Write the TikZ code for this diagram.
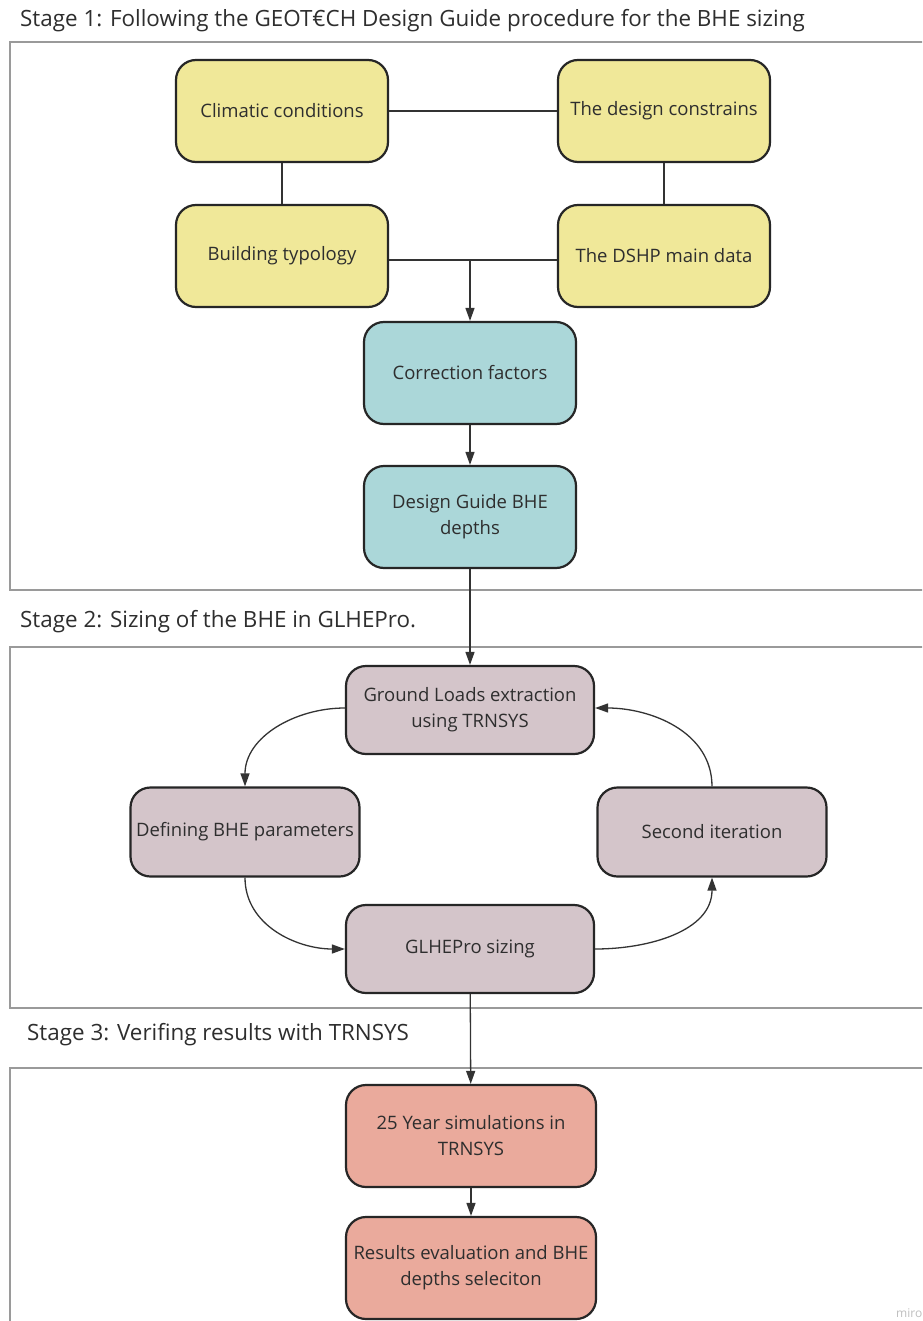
\documentclass[tikz,border=0pt]{standalone}
\usepackage{fontspec}
\setmainfont{Open Sans}
\usetikzlibrary{arrows.meta}
\definecolor{txt}{HTML}{2E2E2E}
\definecolor{yel}{HTML}{F0E899}
\definecolor{teal}{HTML}{ABD7D9}
\definecolor{mauve}{HTML}{D4C5CA}
\definecolor{salmon}{HTML}{EAAA9C}
\definecolor{frame}{HTML}{9A9A9A}
\tikzset{
  box/.style={draw=black!85, line width=2.2pt, rounded corners=20pt, align=center,
    text=txt, font=\fontsize{18.5}{26}\selectfont, inner sep=0pt},
  yb/.style={box, fill=yel, minimum width=212pt, minimum height=102pt},
  tb/.style={box, fill=teal, minimum width=212pt, minimum height=102pt},
  mb/.style={box, fill=mauve, minimum width=248pt, minimum height=88pt},
  mbs/.style={box, fill=mauve, minimum width=229pt, minimum height=89pt},
  sb/.style={box, fill=salmon, minimum width=250pt, minimum height=102pt},
  conn/.style={draw=black!80, line width=1.3pt},
  arr/.style={conn, -{Triangle[length=13pt,width=9pt]}},
  stagebox/.style={draw=frame, line width=1.5pt},
  stagetitle/.style={anchor=west, text=txt, font=\fontsize{22.4}{26}\selectfont, inner sep=0pt}
}
\begin{document}
\begin{tikzpicture}[x=1pt,y=-1pt]
\useasboundingbox (0,0) rectangle (922,1321);
\begin{scope}
\clip (0,0) rectangle (922,1321);
\fill[white] (0,0) rectangle (922,1321);
% stage frames
\draw[stagebox] (940,42) -- (10,42) -- (10,590) -- (940,590);
\draw[stagebox] (940,647) -- (10,647) -- (10,1008) -- (940,1008);
\draw[stagebox] (940,1068) -- (10,1068) -- (10,1340);
\node[text=black!25, font=\fontsize{12}{14}\selectfont, anchor=west, inner sep=0pt] (wm) at (896,1313) {miro};
\end{scope}
% titles
\node[stagetitle] (t1) at (20,21) {Stage 1: Following the GEOT€CH Design Guide procedure for the BHE sizing};
\node[stagetitle] (t2) at (20,622) {Stage 2: Sizing of the BHE in GLHEPro.};
\node[stagetitle] (t3) at (27,1035) {Stage 3: Verifing results with TRNSYS};
% stage 1 nodes
\node[yb] (clim) at (282,111) {Climatic conditions};
\node[yb] (cons) at (664,111) {The design constrains};
\node[yb] (build) at (282,256) {Building typology};
\node[yb] (dshp) at (664,256) {The DSHP main data};
\node[tb] (corr) at (470,373) {Correction factors};
\node[tb] (dg) at (470,517) {Design Guide BHE\\depths};
% stage 2 nodes
\node[mb] (gl) at (470,710) {Ground Loads extraction\\using TRNSYS};
\node[mbs] (def) at (245,832) {Defining BHE parameters};
\node[mbs] (sec) at (712,832) {Second iteration};
\node[mb] (glhe) at (470,949) {GLHEPro sizing};
% stage 3 nodes
\node[sb] (sim) at (471,1136) {25 Year simulations in\\TRNSYS};
\node[sb] (res) at (471,1268) {Results evaluation and BHE\\depths seleciton};
% connectors stage 1
\draw[conn] (clim) -- (cons);
\draw[conn] (clim) -- (build);
\draw[conn] (cons) -- (dshp);
\coordinate (mid) at (470,260);
\draw[conn] (build.east |- mid) -- (dshp.west |- mid);
\draw[arr] (mid) -- (corr.north);
\draw[arr] (corr) -- (dg);
\draw[arr] (dg) -- (gl);
% stage 2 cycle
\draw[arr] ([yshift=2pt]gl.west) to[out=180,in=90] (def.north);
\draw[arr] (def.south) to[out=-90,in=180] (glhe.west);
\draw[arr] (glhe.east) to[out=0,in=-90] (sec.south);
\draw[arr] (sec.north) to[out=90,in=0] ([yshift=2pt]gl.east);
% stage 3
\draw[arr] (glhe) -- (sim);
\draw[arr] (sim) -- (res);
\end{tikzpicture}
\end{document}
